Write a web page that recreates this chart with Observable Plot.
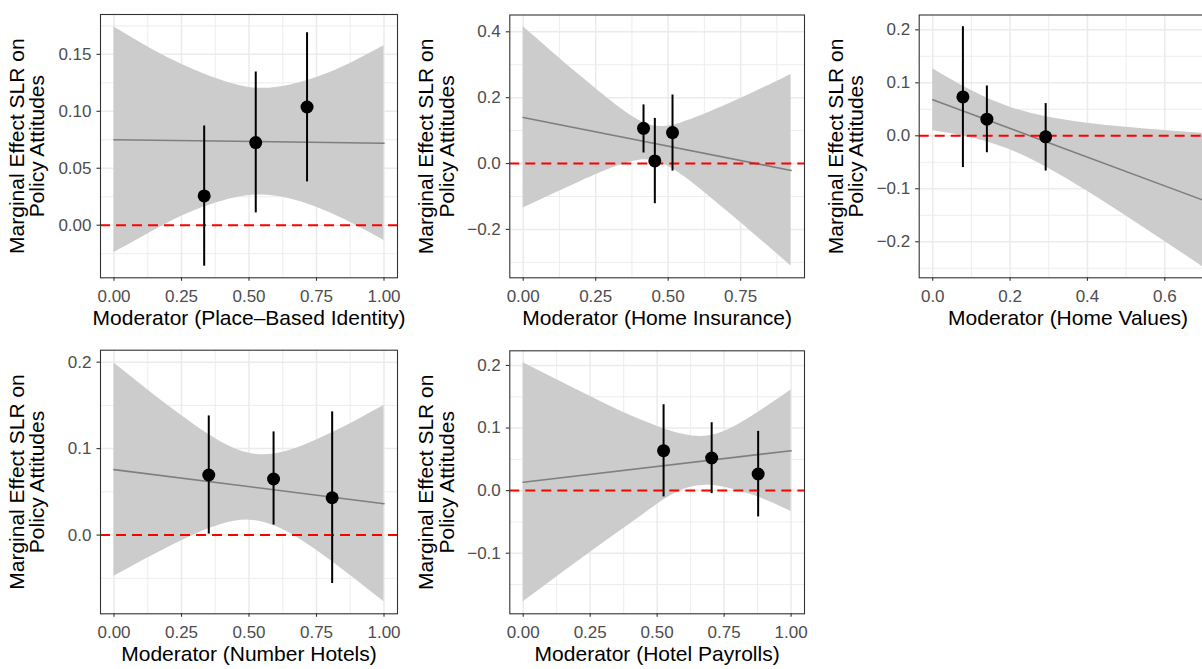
<!DOCTYPE html>
<html>
<head>
<meta charset="utf-8">
<script src="https://cdn.jsdelivr.net/npm/d3@7"></script>
<script src="https://cdn.jsdelivr.net/npm/@observablehq/plot@0.6"></script>
<style>
  html, body { margin: 0; padding: 0; background: white; }
  #wrap { position: relative; width: 1202px; height: 669px; overflow: hidden; background: white; }
  #wrap > div { position: absolute; overflow: visible; }
  #wrap svg { display: block; max-width: none !important; overflow: visible; }
</style>
</head>
<body>
<div id="wrap"></div>
<script>
// ---------- shared labels ----------
const yLabel = "Marginal Effect SLR on\nPolicy Attitudes";

// ---------- Panel 1: Place-Based Identity ----------
const p1Label = "Moderator (Place\u2013Based Identity)";
const p1RibbonX  = [0, 0.1, 0.2, 0.3, 0.4, 0.5, 0.6, 0.7, 0.8, 0.9, 1.0];
const p1RibbonLo = [-0.024, -0.011, 0.002, 0.013, 0.021, 0.026, 0.0255, 0.020, 0.011, -0.0005, -0.0135];
const p1RibbonHi = [0.174, 0.160, 0.147, 0.136, 0.127, 0.121, 0.121, 0.126, 0.134, 0.145, 0.1575];
const p1FitX = [0, 1];
const p1FitY = [0.075, 0.072];
const p1PtX  = [0.334, 0.525, 0.715];
const p1PtY  = [0.0257, 0.0725, 0.1038];
const p1PtLo = [-0.036, 0.0108, 0.038];
const p1PtHi = [0.0871, 0.1345, 0.169];
const p1XTicks = [0, 0.25, 0.5, 0.75, 1];
const p1XMinor = [0.125, 0.375, 0.625, 0.875];
const p1YTicks = [0, 0.05, 0.10, 0.15];
const p1YMinor = [-0.025, 0.025, 0.075, 0.125, 0.175];

// ---------- Panel 2: Home Insurance ----------
const p2Label = "Moderator (Home Insurance)";
const p2RibbonX  = [0, 0.1, 0.2, 0.3, 0.35, 0.4, 0.45, 0.5, 0.55, 0.6, 0.7, 0.8, 0.9, 0.924];
const p2RibbonLo = [-0.135, -0.094, -0.0535, -0.016, -0.0006, 0.010, 0.0087, -0.008, -0.0363, -0.0695, -0.142, -0.217, -0.293, -0.311];
const p2RibbonHi = [0.415, 0.339, 0.264, 0.192, 0.1588, 0.131, 0.1147, 0.114, 0.1249, 0.141, 0.178, 0.218, 0.260, 0.270];
const p2FitX = [0, 0.924];
const p2FitY = [0.140, -0.021];
const p2PtX  = [0.415, 0.454, 0.515];
const p2PtY  = [0.107, 0.008, 0.094];
const p2PtLo = [0.032, -0.122, -0.023];
const p2PtHi = [0.178, 0.137, 0.208];
const p2XTicks = [0, 0.25, 0.5, 0.75];
const p2XMinor = [0.125, 0.375, 0.625, 0.875];
const p2YTicks = [-0.2, 0, 0.2, 0.4];
const p2YMinor = [-0.3, -0.1, 0.1, 0.3];

// ---------- Panel 3: Home Values ----------
const p3Label = "Moderator (Home Values)";
const p3RibbonX  = [0, 0.1, 0.2, 0.3, 0.4, 0.5, 0.6, 0.7];
const p3RibbonLo = [0.0095, -0.0036, -0.0264, -0.0616, -0.1047, -0.1512, -0.1993, -0.2482];
const p3RibbonHi = [0.1265, 0.0854, 0.054, 0.035, 0.0239, 0.0162, 0.0101, 0.0048];
const p3FitX = [0, 0.7];
const p3FitY = [0.068, -0.1217];
const p3PtX  = [0.078, 0.140, 0.292];
const p3PtY  = [0.0734, 0.0313, -0.0019];
const p3PtLo = [-0.060, -0.032, -0.0665];
const p3PtHi = [0.206, 0.094, 0.0608];
const p3XTicks = [0, 0.2, 0.4, 0.6];
const p3XMinor = [0.1, 0.3, 0.5, 0.7];
const p3YTicks = [-0.2, -0.1, 0, 0.1, 0.2];
const p3YMinor = [-0.25, -0.15, -0.05, 0.05, 0.15];

// ---------- Panel 4: Number Hotels ----------
const p4Label = "Moderator (Number Hotels)";
const p4RibbonX  = [0, 0.1, 0.2, 0.3, 0.4, 0.5, 0.6, 0.7, 0.8, 0.9, 1.0];
const p4RibbonLo = [-0.0477, -0.0305, -0.0142, 0.0008, 0.0126, 0.0173, 0.0099, -0.0071, -0.0287, -0.0525, -0.0772];
const p4RibbonHi = [0.1991, 0.1741, 0.1498, 0.1270, 0.1072, 0.0947, 0.0941, 0.1033, 0.1171, 0.1329, 0.1498];
const p4FitX = [0, 1];
const p4FitY = [0.0757, 0.0363];
const p4PtX  = [0.351, 0.591, 0.808];
const p4PtY  = [0.0695, 0.0649, 0.0432];
const p4PtLo = [0.0012, 0.0116, -0.056];
const p4PtHi = [0.1378, 0.1193, 0.1425];
const p4XTicks = [0, 0.25, 0.5, 0.75, 1];
const p4XMinor = [0.125, 0.375, 0.625, 0.875];
const p4YTicks = [0, 0.1, 0.2];
const p4YMinor = [-0.05, 0.05, 0.15];

// ---------- Panel 5: Hotel Payrolls ----------
const p5Label = "Moderator (Hotel Payrolls)";
const p5RibbonX  = [0, 0.1, 0.2, 0.3, 0.4, 0.5, 0.6, 0.7, 0.8, 0.9, 1.0];
const p5RibbonLo = [-0.1777, -0.1458, -0.1143, -0.0831, -0.0530, -0.022, 0.002, 0.0085, 0.000, -0.0140, -0.0332];
const p5RibbonHi = [0.2043, 0.1826, 0.1611, 0.1401, 0.1200, 0.1030, 0.0895, 0.0880, 0.1050, 0.1316, 0.1608];
const p5FitX = [0, 1];
const p5FitY = [0.0133, 0.0638];
const p5PtX  = [0.524, 0.7035, 0.877];
const p5PtY  = [0.0638, 0.0521, 0.0266];
const p5PtLo = [-0.0101, -0.0048, -0.042];
const p5PtHi = [0.1372, 0.1085, 0.0947];
const p5XTicks = [0, 0.25, 0.5, 0.75, 1];
const p5XMinor = [0.125, 0.375, 0.625, 0.875];
const p5YTicks = [-0.1, 0, 0.1, 0.2];
const p5YMinor = [-0.15, -0.05, 0.05, 0.15];

// ---------- build tables ----------
const zipRibbon = (xs, lo, hi) => xs.map((x, i) => ({x, lo: lo[i], hi: hi[i]}));
const zipFit = (xs, ys) => xs.map((x, i) => ({x, y: ys[i]}));
const zipPts = (xs, ys, lo, hi) => xs.map((x, i) => ({x, y: ys[i], lo: lo[i], hi: hi[i]}));

const panels = [
  { label: p1Label, ribbon: zipRibbon(p1RibbonX, p1RibbonLo, p1RibbonHi), fit: zipFit(p1FitX, p1FitY),
    pts: zipPts(p1PtX, p1PtY, p1PtLo, p1PtHi), xTicks: p1XTicks, xMinor: p1XMinor, yTicks: p1YTicks, yMinor: p1YMinor,
    xFmt: ".2f", yFmt: ".2f", xDomain: [-0.05, 1.05], yDomain: [-0.0462, 0.185],
    left: 0, top: 0, w: 400, h: 335, ml: 100, mr: 3, mt: 14, mb: 57.7 },
  { label: p2Label, ribbon: zipRibbon(p2RibbonX, p2RibbonLo, p2RibbonHi), fit: zipFit(p2FitX, p2FitY),
    pts: zipPts(p2PtX, p2PtY, p2PtLo, p2PtHi), xTicks: p2XTicks, xMinor: p2XMinor, yTicks: p2YTicks, yMinor: p2YMinor,
    xFmt: ".2f", yFmt: ".1f", xDomain: [-0.0462, 0.9702], yDomain: [-0.347, 0.451],
    left: 400, top: 0, w: 410, h: 335, ml: 109.3, mr: 6, mt: 14.5, mb: 57.7 },
  { label: p3Label, ribbon: zipRibbon(p3RibbonX, p3RibbonLo, p3RibbonHi), fit: zipFit(p3FitX, p3FitY),
    pts: zipPts(p3PtX, p3PtY, p3PtLo, p3PtHi), xTicks: p3XTicks, xMinor: p3XMinor, yTicks: p3YTicks, yMinor: p3YMinor,
    xFmt: ".1f", yFmt: ".1f", xDomain: [-0.035, 0.735], yDomain: [-0.268, 0.228],
    left: 810, top: 0, w: 410, h: 335, ml: 108.7, mr: 3.5, mt: 14.5, mb: 57.7 },
  { label: p4Label, ribbon: zipRibbon(p4RibbonX, p4RibbonLo, p4RibbonHi), fit: zipFit(p4FitX, p4FitY),
    pts: zipPts(p4PtX, p4PtY, p4PtLo, p4PtHi), xTicks: p4XTicks, xMinor: p4XMinor, yTicks: p4YTicks, yMinor: p4YMinor,
    xFmt: ".2f", yFmt: ".1f", xDomain: [-0.05, 1.05], yDomain: [-0.091, 0.2138],
    left: 0, top: 335, w: 400, h: 334, ml: 100, mr: 3, mt: 14.7, mb: 55.7 },
  { label: p5Label, ribbon: zipRibbon(p5RibbonX, p5RibbonLo, p5RibbonHi), fit: zipFit(p5FitX, p5FitY),
    pts: zipPts(p5PtX, p5PtY, p5PtLo, p5PtHi), xTicks: p5XTicks, xMinor: p5XMinor, yTicks: p5YTicks, yMinor: p5YMinor,
    xFmt: ".2f", yFmt: ".1f", xDomain: [-0.05, 1.05], yDomain: [-0.1968, 0.2234],
    left: 400, top: 335, w: 410, h: 334, ml: 109.3, mr: 6, mt: 15.3, mb: 55.7 }
];

const FONT = "'Liberation Sans', Arial, Helvetica, sans-serif";
const GRID = "#EBEBEB";

function makePanel(p) {
  return Plot.plot({
    width: p.w, height: p.h,
    marginLeft: p.ml, marginRight: p.mr, marginTop: p.mt, marginBottom: p.mb,
    style: { fontFamily: FONT, background: "transparent", overflow: "visible", maxWidth: "none" },
    x: { domain: p.xDomain, axis: null },
    y: { domain: p.yDomain, axis: null },
    marks: [
      Plot.gridX(p.xMinor, { stroke: GRID, strokeOpacity: 1, strokeWidth: 0.9 }),
      Plot.gridY(p.yMinor, { stroke: GRID, strokeOpacity: 1, strokeWidth: 0.9 }),
      Plot.gridX(p.xTicks, { stroke: GRID, strokeOpacity: 1, strokeWidth: 1.5 }),
      Plot.gridY(p.yTicks, { stroke: GRID, strokeOpacity: 1, strokeWidth: 1.5 }),
      Plot.areaY(p.ribbon, { x: "x", y1: "lo", y2: "hi", fill: "#CCCCCC", curve: "natural" }),
      Plot.line(p.fit, { x: "x", y: "y", stroke: "#7F7F7F", strokeWidth: 1.6 }),
      Plot.ruleY([0], { stroke: "#FF0000", strokeWidth: 2, strokeDasharray: "10,6" }),
      Plot.ruleX(p.pts, { x: "x", y1: "lo", y2: "hi", stroke: "black", strokeWidth: 2 }),
      Plot.dot(p.pts, { x: "x", y: "y", r: 6.5, fill: "black", stroke: null }),
      Plot.frame({ stroke: "#333333", strokeWidth: 1.1 }),
      Plot.axisX(p.xTicks, { tickSize: 3.5, tickPadding: 9, fontSize: 17, tickFormat: d3.format(p.xFmt),
        stroke: "#333333", fill: "#4D4D4D", strokeWidth: 1.1, label: null }),
      Plot.axisY(p.yTicks, { tickSize: 3.5, tickPadding: 5.5, fontSize: 17, tickFormat: d3.format(p.yFmt),
        stroke: "#333333", fill: "#4D4D4D", strokeWidth: 1.1, label: null }),
      Plot.text([p.label], { text: d => d, frameAnchor: "bottom", dy: 32, lineAnchor: "top",
        fontSize: 21, fill: "black" }),
      Plot.text([yLabel], { text: d => d, frameAnchor: "left", rotate: -90, dx: -91, lineAnchor: "top",
        textAnchor: "middle", fontSize: 21, lineHeight: 0.967, fill: "black" })
    ]
  });
}

const wrap = document.getElementById("wrap");
for (const p of panels) {
  const holder = document.createElement("div");
  holder.style.left = p.left + "px";
  holder.style.top = p.top + "px";
  holder.style.width = p.w + "px";
  holder.style.height = p.h + "px";
  const svg = makePanel(p);
  svg.style.maxWidth = "none";
  holder.appendChild(svg);
  wrap.appendChild(holder);
}
</script>
</body>
</html>
